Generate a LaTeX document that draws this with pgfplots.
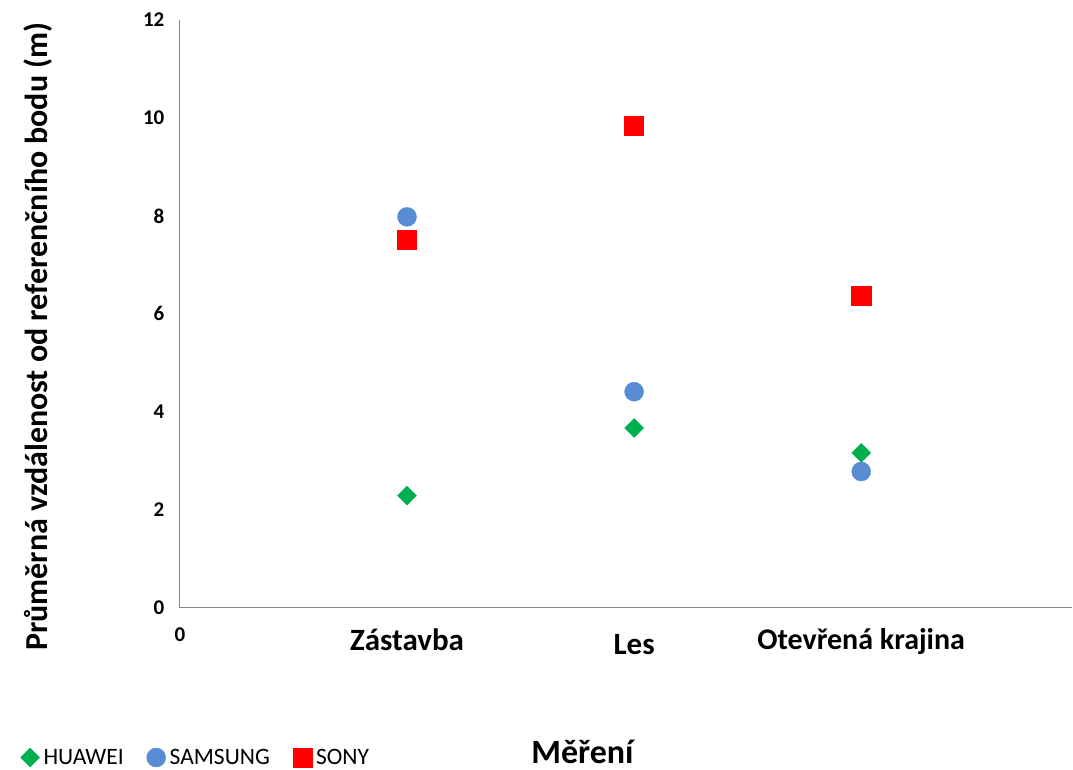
\documentclass[border=0pt]{standalone}
\usepackage{fontspec}
\setmainfont{Carlito}
\usepackage{pgfplots}
\pgfplotsset{compat=1.18}
\definecolor{hw}{RGB}{0,176,80}
\definecolor{sm}{RGB}{88,140,212}
\definecolor{sn}{RGB}{255,0,0}
\definecolor{axgray}{RGB}{134,134,134}
\begin{document}
\begin{tikzpicture}
\begin{axis}[
  scale only axis,
  width=893pt, height=588pt,
  xmin=0, xmax=3.93, ymin=0, ymax=12,
  axis x line=bottom, axis y line=left,
  axis line style={-, draw=axgray, line width=1.2pt},
  xtick={0,1,2,3},
  xticklabels={{\fontsize{21}{24}\selectfont\bfseries\raisebox{9pt}{0}},
               {\fontsize{31}{34}\selectfont\bfseries Zástavba},
               {\fontsize{31}{34}\selectfont\bfseries\raisebox{-4pt}{Les}},
               {\fontsize{30}{34}\selectfont\bfseries\raisebox{1pt}{Otevřená krajina}}},
  xticklabel style={anchor=base, yshift=-43pt},
  ytick={0,2,4,6,8,10,12},
  yticklabel style={font=\fontsize{21}{24}\selectfont\bfseries, xshift=-12pt},
  /pgf/number format/assume math mode=true,
  major tick length=0pt,
  tick style={draw=none},
  xlabel={Měření},
  xlabel style={font=\fontsize{34}{38}\selectfont\bfseries, at={(axis description cs:0.451,-0.245)}, anchor=center},
  ylabel={Průměrná vzdálenost od referenčního bodu (m)},
  ylabel style={font=\fontsize{32}{36}\selectfont\bfseries, at={(axis description cs:-0.159,0.461)}, anchor=center, rotate=0},
  legend columns=3,
  legend style={at={(axis description cs:-0.182,-0.255)}, anchor=west, draw=none, fill=none,
    font=\fontsize{23.5}{26}\selectfont, column sep=2pt,
    /tikz/every even column/.append style={column sep=21pt}},
  clip=false,
]
\addplot[only marks, mark=square*, mark size=6.7pt, mark options={rotate=45, fill=hw, draw=hw}] coordinates {(1,2.29) (2,3.67) (3,3.16)};
\addlegendentry{HUAWEI}
\addplot[only marks, mark=*, mark size=9.5pt, mark options={fill=sm, draw=sm}] coordinates {(1,7.98) (2,4.41) (3,2.78)};
\addlegendentry{SAMSUNG}
\addplot[only marks, mark=square*, mark size=9.6pt, mark options={fill=sn, draw=sn}] coordinates {(1,7.51) (2,9.84) (3,6.37)};
\addlegendentry{SONY}
\end{axis}
\path[use as bounding box] (current axis.origin) ++(-180pt,-160pt) rectangle ++(1073pt,768pt);
\end{tikzpicture}
\end{document}
